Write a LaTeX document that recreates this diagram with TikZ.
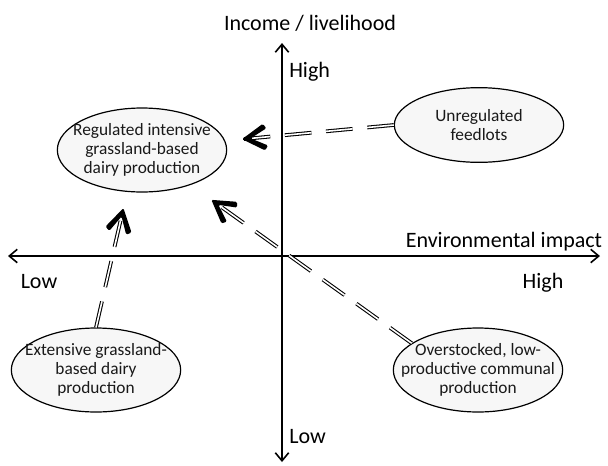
\documentclass[tikz,border=0pt]{standalone}
\usepackage{fontspec}
\setmainfont{Carlito}
\usetikzlibrary{positioning,arrows.meta,shapes.geometric,decorations.markings}
\tikzset{
	myaxis/.style={{Straight Barb[length=6pt,width=10pt]}-{Straight Barb[length=6pt,width=10pt]},line width=1.2pt},
	mylabel/.style={font=\fontsize{16.5}{19}\selectfont,inner sep=0pt},
	myell/.style={draw,ellipse,line width=0.9pt,fill=black!3,minimum width=127pt,minimum height=63pt,inner sep=0pt},
	mytext/.style={align=center,font=\fontsize{13}{14.5}\selectfont,text=black!90,inner sep=0pt},
	myarrow/.style={double,double distance=1.2pt,line width=0.8pt,dash pattern=on 20pt off 11pt,
		postaction={decorate,decoration={markings,mark=at position 1 with {\fill[rounded corners=1pt] (1.5pt,0) -- (-15pt,10pt) -- (-17.5pt,6.5pt) -- (-5pt,0) -- (-17.5pt,-6.5pt) -- (-15pt,-10pt) -- cycle;}}}}
}
\begin{document}
\begin{tikzpicture}[x=0.75pt,y=-0.75pt]
		\useasboundingbox[fill=white] (0,0) rectangle (608,465);
		% axes
		\coordinate (ytop) at (282,43);
		\coordinate (ybot) at (282,462);
		\coordinate (xleft) at (8,256);
		\coordinate (xright) at (600,256);
		\draw[myaxis] (ybot) -- (ytop);
		\draw[myaxis] (xleft) -- (xright);
		\node[mylabel,anchor=base] (income) at (310,30) {Income / livelihood};
		\node[mylabel,anchor=base west] (yhigh) at (289,77) {High};
		\node[mylabel,anchor=base west] (ylow) at (289,443) {Low};
		\node[mylabel,anchor=base] (env) at (504,247) {Environmental impact};
		\node[mylabel,anchor=base] (xlow) at (39,288) {Low};
		\node[mylabel,anchor=base] (xhigh) at (543,288) {High};
		% systems
		\node[myell] (reg) at (142,150) {};
		\node[mytext] (regtxt) at (reg) {Regulated intensive\\grassland-based\\dairy production};
		\node[myell,minimum height=56pt] (unreg) at (479,125) {};
		\node[mytext] (unregtxt) at (unreg) {Unregulated\\feedlots};
		\node[myell] (ext) at (96,370) {};
		\node[mytext] (exttxt) at (ext) {Extensive grassland-\\based dairy\\production};
		\node[myell] (over) at (478,370) {};
		\node[mytext] (overtxt) at (over) {Overstocked, low-\\productive communal\\production};
		% shifts
		\coordinate (tip1) at (244,139);
		\coordinate (tip2) at (123,210);
		\coordinate (tip3) at (213,201);
		\draw[myarrow] (unreg.west) -- (tip1);
		\draw[myarrow] (ext.north) -- (tip2);
		\draw[myarrow] (over.158) -- (tip3);
	\end{tikzpicture}
\end{document}
